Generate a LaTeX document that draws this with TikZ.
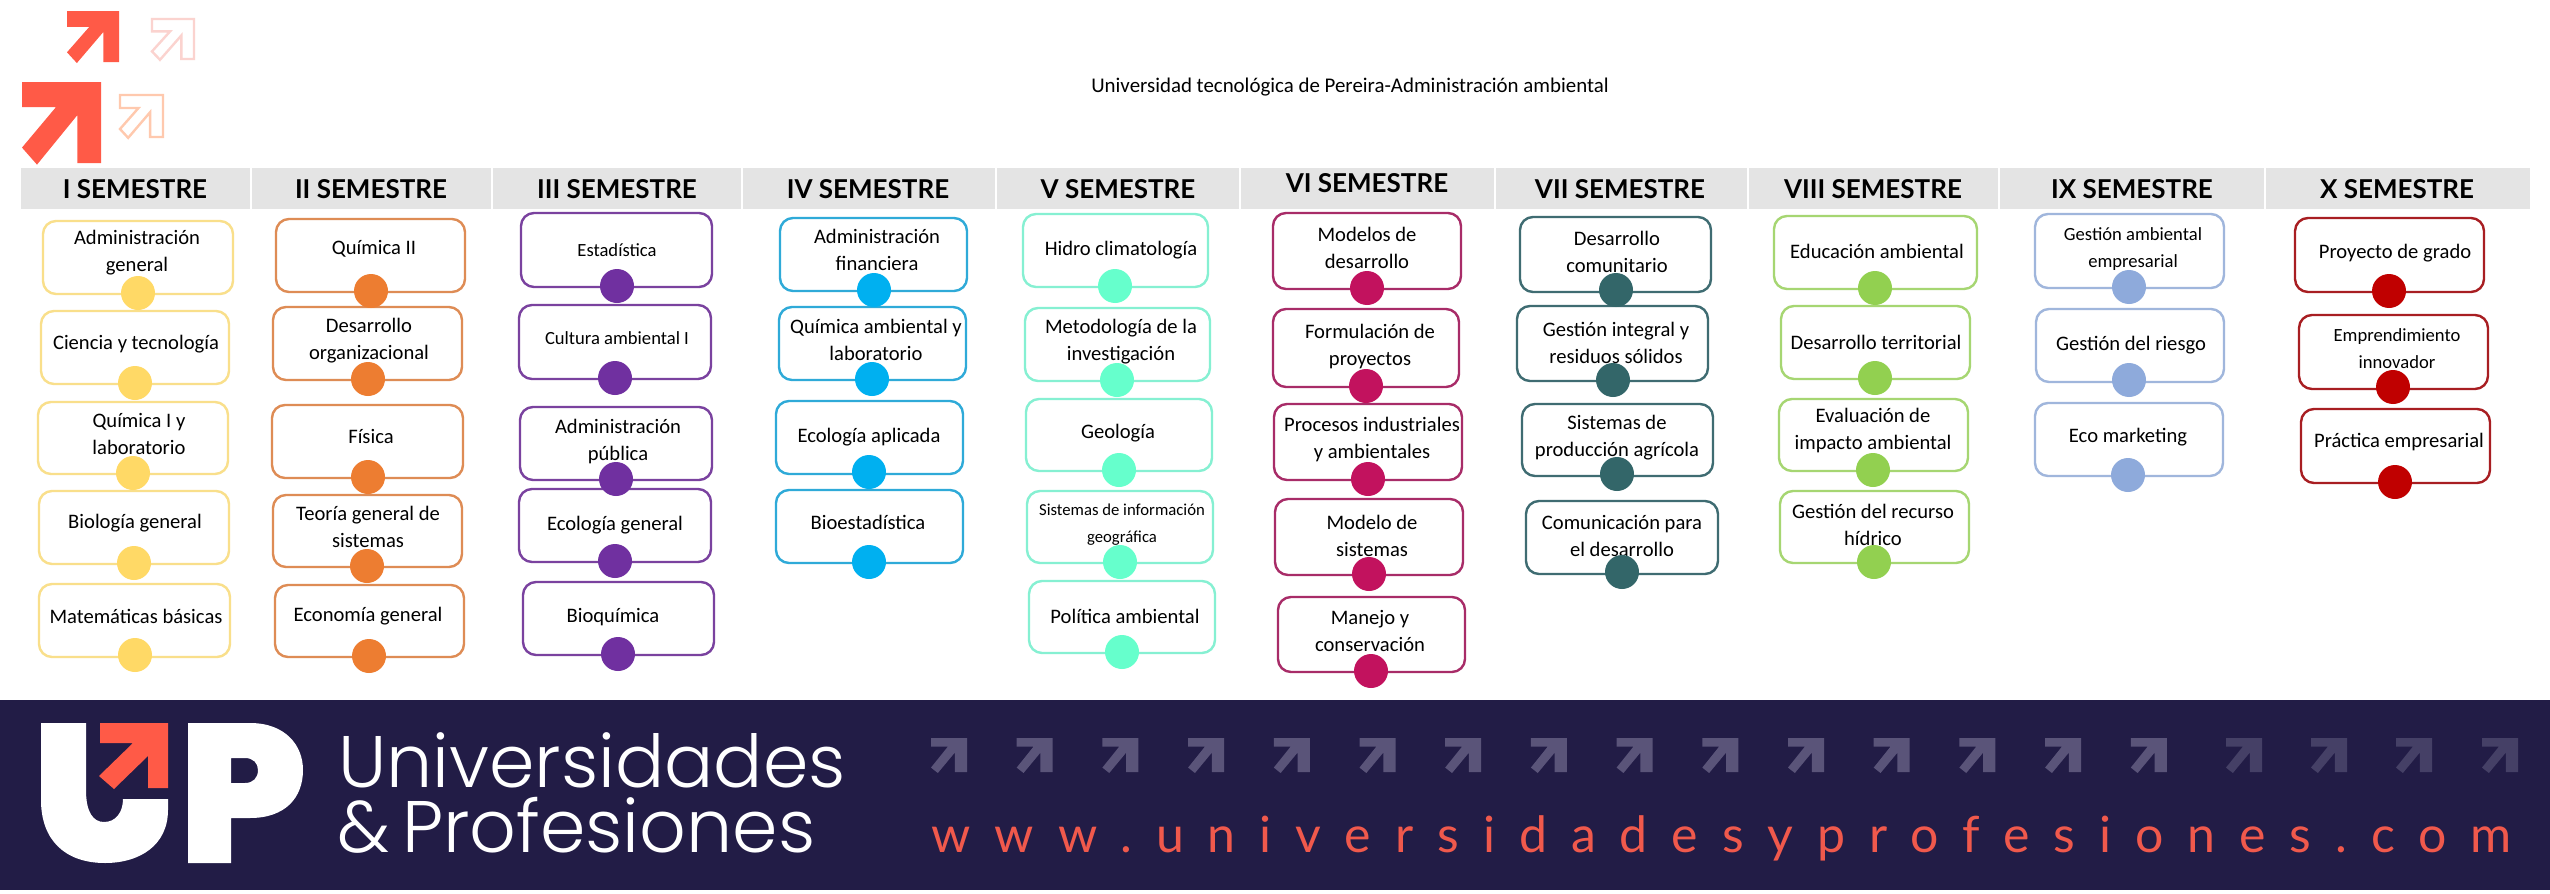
\documentclass[tikz,border=0pt]{standalone}
\usepackage{fontspec}
\setmainfont{Carlito}
\newfontfamily\headf{Lato}
\newfontfamily\popf{Poppins Light}
\newfontfamily\urlf[LetterSpace=48]{Lato}
\pgfdeclarelayer{top}
\pgfsetlayers{main,top}
\definecolor{navy}{HTML}{221C46}
\definecolor{coral}{HTML}{FF5A47}
\definecolor{urlcol}{HTML}{F0594C}
\definecolor{arrA}{HTML}{5A5479}
\definecolor{arrB}{HTML}{454066}
\definecolor{paleA}{HTML}{FBD3CF}
\definecolor{paleB}{HTML}{FFC9AE}
\tikzset{
  subjbox/.style={draw=cbord,line width=1.2pt,rounded corners=6.5pt,inner sep=0pt,fill=none},
  subjtext/.style={align=center,inner sep=0pt,yshift=-0.5pt,font=\fontsize{10.3}{13.5}\selectfont,text=black},
  subjdot/.style={circle,fill=cfill,inner sep=0pt,minimum size=17pt},
  headcell/.style={fill=headgray,inner sep=0pt},
  headtext/.style={anchor=base,inner sep=0pt,font=\headf\bfseries\fontsize{13}{13}\selectfont,text=black},
  x=0.5pt,y=-0.5pt
}
\definecolor{headgray}{HTML}{E4E4E4}
\newcommand\sm{\fontsize{9.3}{12.4}\selectfont}
\newcommand\smm{\fontsize{8.35}{11.4}\selectfont}
\newcommand\subj[9]{%
  \node[subjbox,minimum width={(#3-#2)*0.5pt},minimum height={(#5-#4)*0.5pt}] (#1box) at ({(#2+#3)/2},{(#4+#5)/2}) {};
  \node[subjtext] (#1txt) at (#8) {#9};
  \begin{pgfonlayer}{top}\node[subjdot] (#1dot) at (#6,#7) {};\end{pgfonlayer}
}
\newcommand\headr[5]{%
  \node[headcell,minimum width={(#3-#2)*0.5pt},minimum height=20.5pt] (#1cell) at ({(#2+#3)/2},188.5) {};
  \node[headtext] (#1lab) at (#4,#5) {#1 SEMESTRE};
}
\newcommand\uparr[5]{%
  \begin{scope}[shift={(#1,#2)},x={#3*0.5pt},y={#4*-0.5pt}]
    \path[#5] (0,0)--(1,0)--(1,1)--(.7,1)--(.7,.41)--(.19,1.02)--(0,.81)--(.43,.31)--(0,.31)--cycle;
  \end{scope}
}
\newcommand\bandarr[2]{%
  \begin{scope}[shift={(#1,738)},x={36*0.5pt},y={34*-0.5pt}]
    \path[fill=#2] (0,0)--(1,0)--(1,1)--(.66,1)--(.66,.43)--(.19,1.03)--(0,.87)--(.47,.25)--(0,.25)--cycle;
  \end{scope}
}
\begin{document}
\begin{tikzpicture}
\useasboundingbox (0,0) rectangle (2550,894);
\fill[white] (0,0) rectangle (2550,894);
% top-left arrows
\uparr{22}{82}{79}{81}{fill=coral}
\uparr{67}{11}{52}{51}{fill=coral}
\uparr{152}{19}{42}{40}{draw=paleA,line width=1.2pt,fill=white}
\uparr{120}{95}{43}{42}{draw=paleB,line width=1.2pt,fill=white}
% title
\node[inner sep=0pt,font=\fontsize{10.45}{12}\selectfont] (title) at (1350,87) {Universidad tecnológica de Pereira-Administración ambiental};
% headers
\headr{I}{21}{250}{135}{198}
\headr{II}{251.5}{491}{371}{198}
\headr{III}{492.5}{741}{617}{198}
\headr{IV}{742.5}{995}{868}{198}
\headr{V}{996.5}{1239}{1118}{198}
\headr{VI}{1240.5}{1494}{1367}{192}
\headr{VII}{1495.5}{1747}{1620}{198}
\headr{VIII}{1748.5}{1998}{1873}{198}
\headr{IX}{1999.5}{2264}{2132}{198}
\headr{X}{2265.5}{2530}{2397}{198}
% column I
\definecolor{cbord}{HTML}{F9DF8B}\definecolor{cfill}{HTML}{FFD966}
\subj{a}{43}{233}{221}{294}{138}{293}{137,251.5}{Administración\\general}
\subj{b}{41}{229}{311}{384}{135}{383}{136,343}{Ciencia y tecnología}
\subj{c}{38}{228}{402}{474}{133}{473}{139,432.5}{Química I y\\laboratorio}
\subj{d}{39}{229}{491}{564}{134}{563}{135,522}{Biología general}
\subj{e}{39}{230}{584}{657}{135}{655}{136,615}{Matemáticas básicas}
% column II
\definecolor{cbord}{HTML}{DE8C55}\definecolor{cfill}{HTML}{ED7D31}
\subj{f}{276}{465}{219}{292}{371}{291}{374,248}{Química II}
\subj{g}{273}{462}{307}{380}{368}{379}{369,340}{Desarrollo\\organizacional}
\subj{h}{272}{463}{405}{478}{368}{477}{371,435}{Física}
\subj{i}{273}{462}{495}{567}{367}{566}{368,526}{Teoría general de\\sistemas}
\subj{j}{275}{464}{585}{657}{369}{656}{368,615}{Economía general}
% column III
\definecolor{cbord}{HTML}{7A429F}\definecolor{cfill}{HTML}{7030A0}
\subj{k}{521}{712}{213}{287}{617}{286}{617,249}{\sm Estadística}
\subj{l}{519}{711}{305}{379}{615}{378}{617,337}{\sm Cultura ambiental I}
\subj{m}{520}{712}{407}{480}{616}{479}{618,441}{Administración\\pública}
\subj{n}{519}{711}{489}{562}{615}{561}{615,524}{Ecología general}
\subj{o}{523}{714}{582}{655}{618}{654}{613,616}{Bioquímica}
% column IV
\definecolor{cbord}{HTML}{2FAAD8}\definecolor{cfill}{HTML}{00B0F0}
\subj{p}{780}{967}{218}{291}{874}{290}{877,249}{Administración\\financiera}
\subj{q}{779}{966}{307}{380}{872}{379}{876,339}{Química ambiental y\\laboratorio}
\subj{r}{776}{963}{401}{474}{869}{472}{869,436}{Ecología aplicada}
\subj{s}{776}{963}{490}{563}{869}{562}{868,521}{Bioestadística}
% column V
\definecolor{cbord}{HTML}{86F0D2}\definecolor{cfill}{HTML}{66FFCC}
\subj{t}{1023}{1208}{214}{287}{1115}{286}{1121,249}{Hidro climatología}
\subj{u}{1025}{1210}{308}{381}{1117}{380}{1121,341}{Metodología de la\\investigación}
\subj{v}{1026}{1212}{399}{471}{1119}{470}{1118,432}{Geología}
\subj{w}{1027}{1213}{491}{563}{1120}{562}{1122,523.5}{\smm Sistemas de información\\\smm geográfica}
\subj{x}{1029}{1215}{581}{653}{1122}{652}{1125,615}{Política ambiental}
% column VI
\definecolor{cbord}{HTML}{A82C68}\definecolor{cfill}{HTML}{C2125E}
\subj{y}{1273}{1461}{213}{289}{1367}{288}{1367,247}{Modelos de\\desarrollo}
\subj{z}{1273}{1459}{309}{387}{1366}{386}{1370,346}{Formulación de\\proyectos}
\subj{aa}{1274}{1462}{404}{480}{1368}{479}{1372,439}{Procesos industriales\\y ambientales}
\subj{ab}{1275}{1463}{499}{575}{1369}{574}{1372,535}{Modelo de\\sistemas}
\subj{ac}{1278}{1465}{597}{672}{1371}{671}{1370,630}{Manejo y\\conservación}
% column VII
\definecolor{cbord}{HTML}{3F6C72}\definecolor{cfill}{HTML}{336669}
\subj{ad}{1520}{1711}{217}{292}{1616}{290}{1617,251}{Desarrollo\\comunitario}
\subj{ae}{1517}{1708}{306}{381}{1613}{380}{1616,342}{Gestión integral y\\residuos sólidos}
\subj{af}{1522}{1713}{404}{476}{1617}{474}{1617,436.5}{Sistemas de\\producción agrícola}
\subj{ag}{1526}{1718}{501}{574}{1622}{572}{1622,535}{Comunicación para\\el desarrollo}
% column VIII
\definecolor{cbord}{HTML}{A6D672}\definecolor{cfill}{HTML}{92D050}
\subj{ah}{1774}{1977}{216}{289}{1875}{288}{1877,250}{Educación ambiental}
\subj{ai}{1781}{1970}{306}{379}{1875}{378}{1876,341}{Desarrollo territorial}
\subj{aj}{1779}{1968}{399}{471}{1873}{470}{1873,429.5}{Evaluación de\\impacto ambiental}
\subj{ak}{1780}{1969}{491}{563}{1874}{562}{1873,523.5}{Gestión del recurso\\hídrico}
% column IX
\definecolor{cbord}{HTML}{A0B6DC}\definecolor{cfill}{HTML}{8EAADB}
\subj{al}{2035}{2224}{214}{288}{2129}{287}{2133,248.5}{\sm Gestión ambiental\\\sm empresarial}
\subj{am}{2036}{2224}{309}{382}{2129}{380}{2131,344}{Gestión del riesgo}
\subj{an}{2035}{2223}{403}{476}{2128}{475}{2128,436}{Eco marketing}
% column X
\definecolor{cbord}{HTML}{A81E22}\definecolor{cfill}{HTML}{C00000}
\subj{ao}{2295}{2484}{218}{292}{2389}{291}{2395,252}{Proyecto de grado}
\subj{ap}{2299}{2488}{315}{389}{2393}{387}{2397,347.5}{\sm Emprendimiento\\\sm innovador}
\subj{aq}{2301}{2490}{409}{483}{2395}{482}{2399,441}{Práctica empresarial}
% banner
\fill[navy] (0,700) rectangle (2550,890);
\foreach \k in {0,...,14}{\bandarr{931+85.7*\k}{arrA}}
\foreach \px in {2226,2311,2396,2482}{\bandarr{\px}{arrB}}
% logo
\fill[white] (41,723)--(86,723)--(86,790) .. controls (86,812) and (93,822) .. (104,822) .. controls (116,822) and (123,812) .. (123,799) -- (168,799) -- (168,810) .. controls (168,845) and (140,863) .. (105,863) .. controls (65,863) and (41,840) .. (41,800) -- cycle;
\fill[coral] (100,723)--(168,723)--(168,788)--(148,788)--(148,756)--(114,789)--(99,776)--(133,743)--(100,743)--cycle;
\fill[white,even odd rule] (188,723)--(250,723) .. controls (285,723) and (303,745) .. (303,770) .. controls (303,798) and (285,818) .. (250,818) -- (231,818)--(231,863)--(188,863)--cycle
  (231,758)--(245,758) .. controls (253,758) and (258,763) .. (258,770) .. controls (258,778) and (253,783) .. (245,783) -- (231,783) -- cycle;
\node[anchor=base west,inner sep=0pt,text=white,font=\popf\fontsize{36.5}{36}\selectfont] (brand1) at (338,787) {Universidades};
\node[anchor=base west,inner sep=0pt,text=white,font=\popf\fontsize{36.5}{36}\selectfont] (brand2) at (337,852) {\&\,Profesiones};
\node[anchor=base west,inner sep=0pt,text=urlcol,font=\urlf\fontsize{25}{25}\selectfont] (url) at (931,852) {www.universidadesyprofesiones.com};
\end{tikzpicture}
\end{document}
